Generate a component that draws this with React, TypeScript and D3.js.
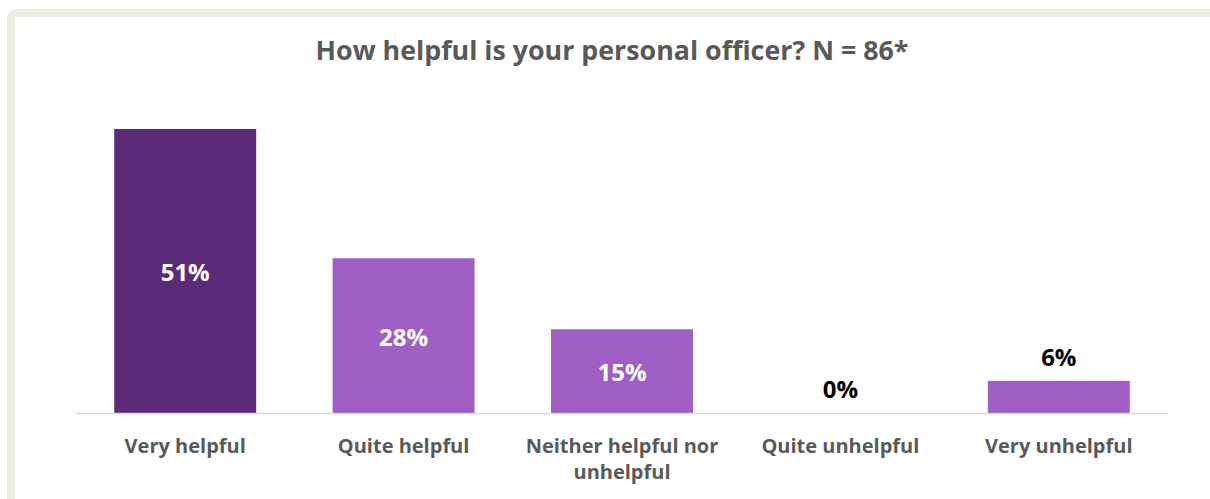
import React from "react";
import * as d3 from "d3";

const categories = ["Very helpful", "Quite helpful", "Neither helpful nor unhelpful", "Quite unhelpful", "Very unhelpful"];
const values = [51.2, 27.9, 15.1, 0, 5.8];
const labels = ["51%", "28%", "15%", "0%", "6%"];
const labelInside = [true, true, true, false, false];
const barColors = ["#5B2A78", "#A05FC5", "#A05FC5", "#A05FC5", "#A05FC5"];
const title = "How helpful is your personal officer? N = 86*";

const W = 1210;
const H = 499;
const FONT = "'Open Sans', sans-serif";

function wrapLabel(s: string): string[] {
  if (s === "Neither helpful nor unhelpful") return ["Neither helpful nor", "unhelpful"];
  return [s];
}

export default function App() {
  const x0 = 76, x1 = 1168, yBase = 413;
  const x = d3.scaleBand<string>().domain(categories).range([x0, x1]).paddingInner(0.35).paddingOuter(0.175);
  const y = d3.scaleLinear().domain([0, 51.2]).range([yBase, 129]);

  return (
    <svg width={W} height={H} style={{ position: "absolute", left: 0, top: 0 }}>
      <rect x={0} y={0} width={W} height={H} fill="#ffffff" />
      <rect x={11} y={13} width={W + 40} height={H + 40} rx={6} ry={6} fill="#ffffff" stroke="#EEEBE0" strokeWidth={8} />
      <text x={612} y={60} textAnchor="middle" fontFamily={FONT} fontWeight={700} fontSize={26.8} fill="#595959">{title}</text>
      {categories.map((c, i) => {
        const bx = x(c)!;
        const bw = x.bandwidth();
        const top = y(values[i]);
        const cx = bx + bw / 2;
        return (
          <g key={c}>
            {values[i] > 0 && <rect x={bx} y={top} width={bw} height={yBase - top} fill={barColors[i]} />}
            {labelInside[i] ? (
              <text x={cx} y={(top + yBase) / 2 + 10} textAnchor="middle" fontFamily={FONT} fontWeight={700} fontSize={24} fill="#ffffff">{labels[i]}</text>
            ) : (
              <text x={cx} y={top - 15} textAnchor="middle" fontFamily={FONT} fontWeight={700} fontSize={24} fill="#000000">{labels[i]}</text>
            )}
            {wrapLabel(c).map((line, j) => (
              <text key={j} x={cx} y={453 + j * 26} textAnchor="middle" fontFamily={FONT} fontWeight={700} fontSize={20} fill="#595959">{line}</text>
            ))}
          </g>
        );
      })}
      <line x1={x0} x2={x1} y1={yBase + 0.5} y2={yBase + 0.5} stroke="#D9D9D9" strokeWidth={1.5} />
    </svg>
  );
}
